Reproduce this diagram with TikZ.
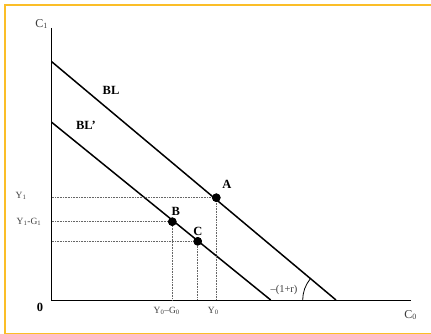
\documentclass[tikz,border=0pt]{standalone}
\usepackage{fontspec}
\setmainfont{Liberation Serif}
\definecolor{frameorange}{RGB}{251,190,40}
\definecolor{txtgray}{RGB}{60,60,60}
\begin{document}
\begin{tikzpicture}[x=1pt,y=-1pt,
  axisline/.style={line width=1pt,black},
  budget/.style={line width=1.5pt,black},
  guide/.style={densely dotted,line width=0.6pt,gray!80!black},
  ptdot/.style={circle,fill=black,inner sep=0pt,minimum size=8.5pt},
  ptlabel/.style={font=\fontsize{12.5}{12.5}\selectfont\bfseries,inner sep=0pt},
  axlabel/.style={font=\fontsize{12}{12}\selectfont,text=txtgray,inner sep=0pt},
  ticklabel/.style={font=\fontsize{9.5}{9.5}\selectfont,text=txtgray,inner sep=0pt}]
\useasboundingbox (0,0) rectangle (431,334);
% frame
\draw[frameorange,line width=2.5pt] (5,334) -- (5,5) -- (431,5);
\draw[frameorange,line width=1pt] (5,333) -- (431,333);
% axes
\coordinate (O) at (51.7,300);
\coordinate (ytop) at (51.7,28);
\coordinate (xend) at (410.7,300);
\draw[axisline] (ytop) -- (O) -- (xend);
% budget lines
\coordinate (bl0) at (51.7,61.7);
\coordinate (bl1) at (336,300);
\coordinate (blp0) at (51.7,122.3);
\coordinate (blp1) at (270.7,300);
\draw[budget] (bl0) -- (bl1);
\draw[budget] (blp0) -- (blp1);
% points
\node[ptdot] (A) at (216.3,197.7) {};
\node[ptdot] (B) at (172.3,221.7) {};
\node[ptdot] (C) at (197.7,241.3) {};
% guides
\coordinate (Ay) at (51.7,197.7);
\coordinate (Ax) at (216.3,300);
\coordinate (By) at (51.7,221.7);
\coordinate (Bx) at (172.3,300);
\coordinate (Cy) at (51.7,241.3);
\coordinate (Cx) at (197.7,300);
\draw[guide] (Ay) -- (A.center) -- (Ax);
\draw[guide] (By) -- (B.center) -- (Bx);
\draw[guide] (Cy) -- (C.center) -- (Cx);
\node[ptdot] at (A) {};
\node[ptdot] at (B) {};
\node[ptdot] at (C) {};
% angle arc
\draw[line width=0.8pt] (302.7,300) arc[start angle=180,end angle=219,radius=33.3];
\node[ticklabel,font=\fontsize{10.5}{10.5}\selectfont] (slope) at (284,290) {\textendash(1+r)};
% labels
\node[axlabel] (c1) at (41.7,24) {C\textsubscript{1}};
\node[axlabel] (c0) at (410.7,315) {C\textsubscript{0}};
\node[ptlabel] (zero) at (40,307) {0};
\node[ptlabel] (bl) at (111,90) {BL};
\node[ptlabel] (blp) at (86,125.7) {BL\char"0027};
\node[ptlabel] (la) at (227,184) {A};
\node[ptlabel] (lb) at (175.7,211.3) {B};
\node[ptlabel] (lc) at (198,231.3) {C};
\node[ticklabel] (y1) at (21,195.7) {Y\textsubscript{1}};
\node[ticklabel] (y1g1) at (29,221.7) {Y\textsubscript{1}-G\textsubscript{1}};
\node[ticklabel] (y0g0) at (166.7,311) {Y\textsubscript{0}\textendash G\textsubscript{0}};
\node[ticklabel] (y0) at (213.3,311) {Y\textsubscript{0}};
\end{tikzpicture}
\end{document}
